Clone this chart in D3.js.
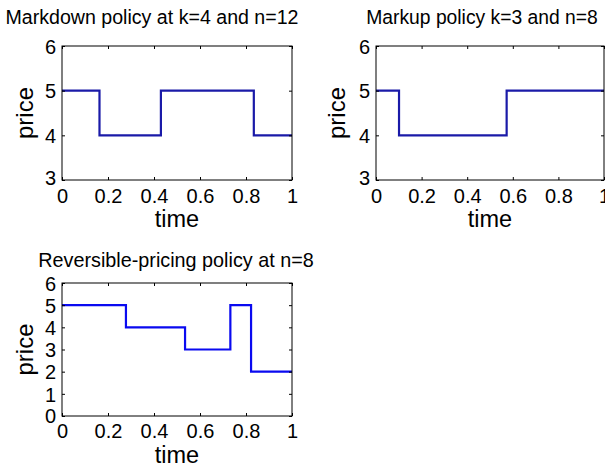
<!DOCTYPE html>
<html><head><meta charset="utf-8">
<script src="https://cdn.jsdelivr.net/npm/d3@7"></script>
<style>body{margin:0;background:#fff}svg{display:block}text{font-family:Arial,"Liberation Sans",sans-serif;fill:#000}</style>
</head><body>
<svg id="c" width="605" height="473"></svg>
<script>
// Data
const markdownTimes = [0, 0.163, 0.43, 0.834, 1];
const markdownPrices = [5, 4, 5, 4];
const markupTimes = [0, 0.101, 0.573, 1];
const markupPrices = [5, 4, 5];
const reversibleTimes = [0, 0.278, 0.535, 0.732, 0.822, 1];
const reversiblePrices = [5, 4, 3, 5, 2];
const xTicks = [0, 0.2, 0.4, 0.6, 0.8, 1];
const yTicksTop = [3, 4, 5, 6];
const yTicksBottom = [0, 1, 2, 3, 4, 5, 6];
const titles = ["Markdown policy at k=4 and n=12", "Markup policy k=3 and n=8", "Reversible-pricing policy at n=8"];

const svg = d3.select("#c");
const FF = "Arial, Liberation Sans, sans-serif";

function panel(o){
  const g = svg.append("g");
  const x = d3.scaleLinear().domain([0,1]).range([o.x0, o.x1]);
  const y = d3.scaleLinear().domain(o.ydom).range([o.y1, o.y0]);
  const pts = [];
  o.prices.forEach((p,i)=>{ pts.push([o.times[i], p]); pts.push([o.times[i+1], p]); });
  g.append("path").datum(pts)
    .attr("fill","none").attr("stroke",o.color).attr("stroke-width",2.2)
    .attr("d", d3.line().x(d=>x(d[0])).y(d=>y(d[1])));
  g.append("rect").attr("x",o.x0).attr("y",o.y0).attr("width",o.x1-o.x0).attr("height",o.y1-o.y0)
    .attr("fill","none").attr("stroke","#000").attr("stroke-width",1);
  const tl = 3;
  const axB = d3.axisBottom(x).tickValues(xTicks).tickSize(-tl).tickFormat(d=>d);
  const axT = d3.axisTop(x).tickValues(xTicks).tickSize(-tl).tickFormat("");
  const axL = d3.axisLeft(y).tickValues(o.yticks).tickSize(-tl).tickFormat(d=>d);
  const axR = d3.axisRight(y).tickValues(o.yticks).tickSize(-tl).tickFormat("");
  const gb = g.append("g").attr("transform",`translate(0,${o.y1})`).call(axB);
  const gt = g.append("g").attr("transform",`translate(0,${o.y0})`).call(axT);
  const gl = g.append("g").attr("transform",`translate(${o.x0},0)`).call(axL);
  const gr = g.append("g").attr("transform",`translate(${o.x1},0)`).call(axR);
  [gb,gt,gl,gr].forEach(a=>{a.select(".domain").remove(); a.selectAll("line").attr("stroke","#000");});
  gb.selectAll("text").attr("font-size",20).attr("dy",0).attr("y",o.xlabY - o.y1).attr("font-family",FF);
  gl.selectAll("text").attr("font-size",20).attr("x",-6).attr("dy","0.36em").attr("font-family",FF);
  gl.selectAll(".tick").filter(d=>d===o.ydom[0]).select("text").attr("dy",o.lowDy);
  g.append("text").attr("x",(o.x0+o.x1)/2).attr("y",o.timeY).attr("text-anchor","middle").attr("font-size",23.5).text("time");
  g.append("text").attr("transform",`translate(${o.priceX},${(o.y0+o.y1)/2}) rotate(-90)`).attr("text-anchor","middle").attr("dy","0.35em").attr("font-size",24).text("price");
  g.append("text").attr("x",o.titleX).attr("y",o.titleY).attr("text-anchor","middle").attr("font-size",o.titleSize).text(o.title);
}

panel({x0:62,x1:292,y0:46,y1:180,ydom:[3,6],yticks:yTicksTop,times:markdownTimes,prices:markdownPrices,
  color:"#1a1aa8",xlabY:203,timeY:227,priceX:25,titleX:152,titleY:24,titleSize:19.6,lowDy:"0.2em",title:titles[0]});
panel({x0:376,x1:604,y0:46,y1:180,ydom:[3,6],yticks:yTicksTop,times:markupTimes,prices:markupPrices,
  color:"#1a1aa8",xlabY:203,timeY:227,priceX:337,titleX:482,titleY:24,titleSize:19.3,lowDy:"0.2em",title:titles[1]});
panel({x0:62,x1:292,y0:283,y1:416,ydom:[0,6],yticks:yTicksBottom,times:reversibleTimes,prices:reversiblePrices,
  color:"#0a0af0",xlabY:438,timeY:463,priceX:25,titleX:176,titleY:267,titleSize:19.8,lowDy:"0.3em",title:titles[2]});
</script>
</body></html>
